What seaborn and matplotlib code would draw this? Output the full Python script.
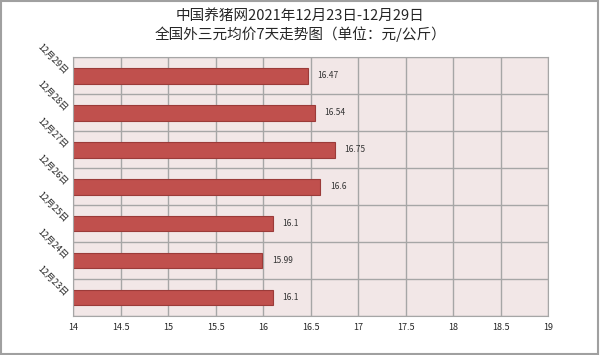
import matplotlib
matplotlib.use('Agg')
import matplotlib.pyplot as plt
import seaborn as sns
import pandas as pd
import numpy as np
from matplotlib.patches import Rectangle

sns.set_style("white")
plt.rcParams['font.family'] = ['Noto Sans CJK SC', 'DejaVu Sans']
plt.rcParams['axes.unicode_minus'] = False

# 数据
dates = ['12月29日', '12月28日', '12月27日', '12月26日', '12月25日', '12月24日', '12月23日']
prices = [16.47, 16.54, 16.75, 16.6, 16.1, 15.99, 16.1]
xticks = [14, 14.5, 15, 15.5, 16, 16.5, 17, 17.5, 18, 18.5, 19]

df = pd.DataFrame({'date': dates, 'price': prices})

fig = plt.figure(figsize=(6, 3.55), dpi=100)
ax = fig.add_axes([0.122, 0.110, 0.792, 0.729])
ax.set_facecolor('#F2E7E7')

sns.barplot(x='price', y='date', data=df, orient='h', color='#C0504D',
            width=0.43, edgecolor='#9B3B39', linewidth=0.8, saturation=1, ax=ax)

ax.set_xlim(14, 19)
ax.set_ylim(len(dates) - 0.5, -0.5)
ax.set_xticks(xticks)
ax.set_xticklabels([('%g' % v) for v in xticks], fontsize=6.5)
ax.set_yticks(np.arange(len(dates)) - 0.08)
ax.set_yticklabels(dates, rotation=-45, fontsize=6.5, ha='right', va='center',
                   rotation_mode='anchor')
ax.set_yticks(np.arange(len(dates) + 1) - 0.5, minor=True)
ax.tick_params(axis='both', length=0)
ax.tick_params(axis='x', pad=5)
ax.tick_params(axis='y', pad=5)
ax.grid(axis='x', which='major', color='#A6A6A6', linewidth=1)
ax.grid(axis='y', which='minor', color='#A6A6A6', linewidth=1)
ax.set_axisbelow(True)
for s in ax.spines.values():
    s.set_color('#A6A6A6')
ax.set_xlabel('')
ax.set_ylabel('')

for i, v in enumerate(prices):
    ax.text(v + 0.1, i, '%g' % v, va='center', ha='left', fontsize=6, color='#333333')

fig.text(0.5, 0.955, '中国养猪网2021年12月23日-12月29日', ha='center', va='center', fontsize=10.5)
fig.text(0.5, 0.905, '全国外三元均价7天走势图（单位：元/公斤）', ha='center', va='center', fontsize=10.5)

fig.patches.append(Rectangle((0.002, 0.003), 0.995, 0.993, transform=fig.transFigure,
                             fill=False, edgecolor='#A0A0A0', linewidth=1.5))

fig.savefig('out.png', dpi=100)
